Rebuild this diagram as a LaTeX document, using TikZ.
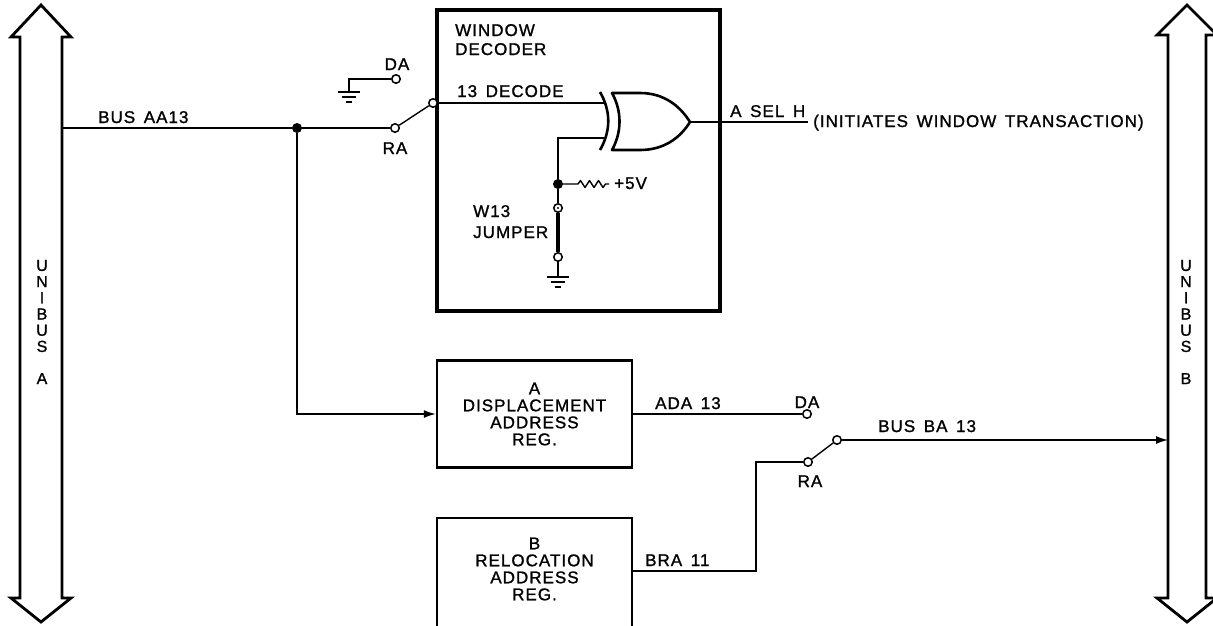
\documentclass[tikz,border=0pt]{standalone}
\usepackage{fontspec}
\setmainfont{Liberation Sans}[LetterSpace=6,WordSpace=1.5,FakeBold=1.2]
\usetikzlibrary{arrows.meta}
\tikzset{
  wire/.style={line width=1.4pt},
  busshape/.style={line width=2.8pt, fill=white, line join=miter},
  contact/.style={circle, draw, fill=white, inner sep=0pt, minimum size=8.5pt, line width=1.5pt},
  jdot/.style={circle, fill, inner sep=0pt, minimum size=10pt},
  regbox/.style={draw, line width=2.4pt, inner sep=0pt, minimum width=195pt, align=center},
  winbox/.style={draw, line width=4.5pt, inner sep=0pt, minimum width=283pt, minimum height=301pt},
  gateline/.style={line width=2.6pt},
  lbl/.style={inner sep=0pt, anchor=base},
  lblw/.style={inner sep=0pt, anchor=base west},
  arr/.style={wire, -{Latex[length=12pt,width=8pt]}},
  gnd/.pic={\draw[line width=1.4pt] (-11,0) -- (11,0) (-7,5) -- (7,5) (-3,10) -- (3,10);},
  every node/.style={font=\fontsize{17}{17}\selectfont}
}
\begin{document}
\begin{tikzpicture}[x=1pt,y=-1pt]
\useasboundingbox (0,0) rectangle (1213,625);
% Unibus A and B
\draw[busshape] (41,5) -- (71,37) -- (62,37) -- (62,598) -- (71,598) -- (41,622) -- (11,598) -- (20,598) -- (20,37) -- (11,37) -- cycle;
\draw[busshape] (1187,5) -- (1217,35) -- (1206,35) -- (1206,598) -- (1217,598) -- (1187,622) -- (1157,598) -- (1168,598) -- (1168,35) -- (1157,35) -- cycle;
\node[align=center, inner sep=0pt, font=\fontsize{16}{16.2}\selectfont] (ubA) at (42,322) {U\\N\\I\\B\\U\\S\\[16pt]A};
\node[align=center, inner sep=0pt, font=\fontsize{16}{16.2}\selectfont] (ubB) at (1186,322) {U\\N\\I\\B\\U\\S\\[16pt]B};
\coordinate (busAtap) at (62,128);
\coordinate (busBtap) at (1168,440);

% boxes
\node[winbox] (W) at (578.5,160.5) {};
\node[regbox, minimum height=107pt] (Abox) at (534.5,414) {A\\DISPLACEMENT\\ADDRESS\\REG.};
\node[regbox, minimum height=130pt, anchor=north] (Bbox) at (534.5,517) {};
\node[inner sep=0pt, align=center] (Btxt) at (534.5,569) {B\\RELOCATION\\ADDRESS\\REG.};
\node[lblw] (wt1) at (455,36) {WINDOW};
\node[lblw] (wt2) at (455,55) {DECODER};

% first switch
\node[jdot] (J) at (297,128) {};
\node[contact] (RA1) at (395,128) {};
\node[contact] (DA1) at (396,79) {};
\node[contact] (C1) at (433,103) {};
\coordinate (g1) at (349,92);
\draw[wire] (busAtap) -- (J) -- (RA1);
\draw[wire] (RA1) -- (C1);
\draw[wire] (DA1) -| (g1);
\pic at (g1) {gnd};
\node[lbl] (lDA1) at (397,70) {DA};
\node[lbl] (lRA1) at (395,154) {RA};
\node[lblw] (lbus) at (98,123) {BUS AA13};
\draw[arr] (J) |- (Abox.west);

% XOR gate
\coordinate (gIn1) at (604,103);
\coordinate (gIn2) at (604,138);
\coordinate (gOut) at (690,122);
\draw[gateline] (600,92) .. controls (611,111) and (611,131) .. (600,150);
\draw[gateline, line join=round] (612,93) -- (640,93) .. controls (664,93) and (680,106) .. (gOut) .. controls (680,138) and (664,150) .. (640,150) -- (612,150) .. controls (622,132) and (622,111) .. (612,93) -- cycle;
\draw[wire] (C1) -- (gIn1);
\node[lblw] (l13) at (457,97) {13 DECODE};
\coordinate (outEnd) at (808,122);
\draw[wire] (gOut) -- (outEnd);
\node[lblw] (lsel) at (730,117) {A SEL H};
\node[lblw] (linit) at (813,127) {(INITIATES WINDOW TRANSACTION)};

% jumper
\node[jdot] (J2) at (558,184) {};
\node[contact] (J3) at (558,208) {};
\fill (J3) circle (1.2pt);
\node[contact] (J4) at (558,257) {};
\coordinate (g2) at (558,277);
\coordinate (r1) at (578,184);
\draw[wire] (gIn2) -- (558,138) -- (J2);
\draw[wire, line join=round] (J2) -- (r1) -- (580.5,180.5) -- (585,187.5) -- (589.5,180.5) -- (594,187.5) -- (598.5,180.5) -- (603,187.5) -- (605.5,184) -- (609,184);
\node[lblw] (l5v) at (614,189) {+5V};
\draw[wire] (J2) -- (J3);
\draw[line width=3.5pt] (J3) -- (J4);
\draw[wire] (J4) -- (g2);
\pic at (g2) {gnd};
\node[lblw] (lw13) at (473,217) {W13};
\node[lblw] (ljmp) at (473,238) {JUMPER};

% second switch
\node[contact] (DA2) at (807,414) {};
\node[contact] (C2) at (837,440) {};
\node[contact] (RA2) at (808,462) {};
\coordinate (Bout) at (632,571);
\coordinate (bend) at (756,462);
\draw[wire] (Abox.east) -- (DA2);
\draw[wire] (RA2) -- (C2);
\draw[arr] (C2) -- (busBtap);
\draw[wire] (RA2) -- (bend) |- (Bout);
\node[lblw] (lada) at (655,409) {ADA 13};
\node[lbl] (lDA2) at (807,408) {DA};
\node[lbl] (lRA2) at (810,487) {RA};
\node[lblw] (lbba) at (878,432) {BUS BA 13};
\node[lblw] (lbra) at (645,566) {BRA 11};
\end{tikzpicture}
\end{document}
